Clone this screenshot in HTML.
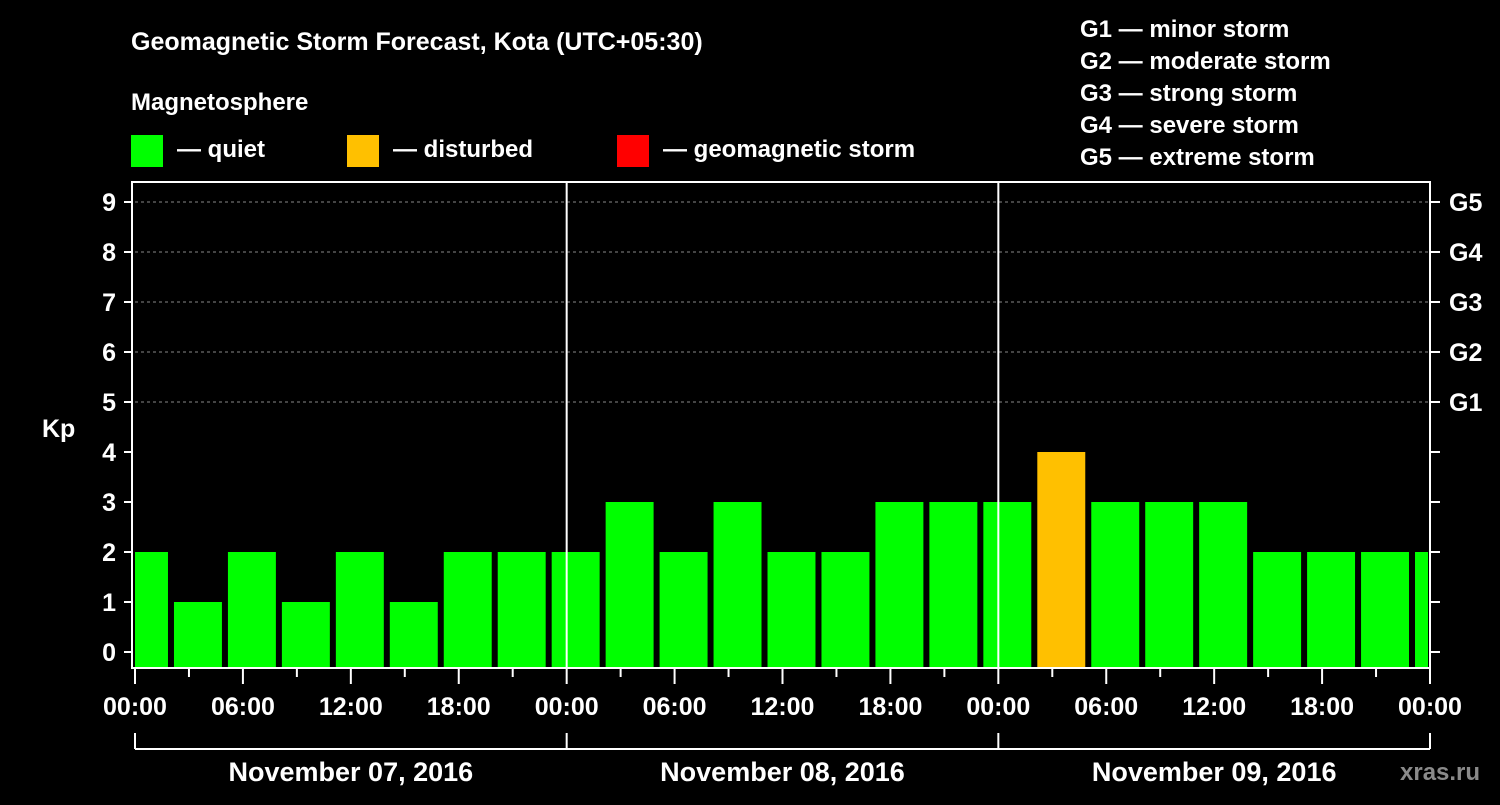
<!DOCTYPE html>
<html><head><meta charset="utf-8"><style>
body{margin:0;background:#000;width:1500px;height:800px;overflow:hidden}
svg text{font-family:"Liberation Sans",Arial,sans-serif;font-weight:bold;fill:#fff}
</style></head><body>
<svg id="chart" width="1500" height="800" xmlns="http://www.w3.org/2000/svg">
<rect width="1500" height="800" fill="#000"/>
<text x="131" y="50" font-size="25">Geomagnetic Storm Forecast, Kota (UTC+05:30)</text>
<text x="131" y="110" font-size="24">Magnetosphere</text>
<g><rect x="131" y="135" width="32" height="32" fill="#00ff00"/><text x="177" y="157" font-size="24">— quiet</text></g>
<g><rect x="347" y="135" width="32" height="32" fill="#ffc000"/><text x="393" y="157" font-size="24">— disturbed</text></g>
<g><rect x="617" y="135" width="32" height="32" fill="#ff0000"/><text x="663" y="157" font-size="24">— geomagnetic storm</text></g>
<g font-size="24">
<text x="1080" y="37">G1 — minor storm</text>
<text x="1080" y="69">G2 — moderate storm</text>
<text x="1080" y="101">G3 — strong storm</text>
<text x="1080" y="133">G4 — severe storm</text>
<text x="1080" y="165">G5 — extreme storm</text>
</g>
<text x="42" y="437" font-size="25">Kp</text>
<text x="1400" y="780" font-size="24" fill="#888" style="fill:#8a8a8a">xras.ru</text>
<g id="plot"></g>
</svg>
<script>
const kpValues=[2,1,2,1,2,1,2,2,2,3,2,3,2,2,3,3,3,4,3,3,3,2,2,2,2];
const dayLabels=["November 07, 2016","November 08, 2016","November 09, 2016"];
const timeLabels=["00:00","06:00","12:00","18:00"];
const kpTicks=[0,1,2,3,4,5,6,7,8,9];
const gLabels=["G1","G2","G3","G4","G5"];
const X0=135,X1=1430,HOURS=72,TOP=182,BOT=668;
const x=h=>X0+(X1-X0)*h/HOURS;
const y=k=>652-50*k;
const NS="http://www.w3.org/2000/svg";
const g=document.getElementById('plot');
function mk(t,a){const e=document.createElementNS(NS,t);for(const k in a)e.setAttribute(k,a[k]);g.appendChild(e);return e;}
// grid
kpTicks.filter(k=>k>=5).forEach(k=>{const l=mk('line',{x1:X0,x2:X1,y1:y(k),y2:y(k),stroke:'#888','stroke-dasharray':'3,3','stroke-width':1});

});
// bars
kpValues.forEach((v,i)=>{
 let s=i===0?-1:2+3*(i-1), e=s+3;
 let a=Math.max(s,0), b=Math.min(e,HOURS);
 let xa=x(a)+(s<0?0:3), xb=x(b)-(e>HOURS?2:3);
 const r=mk('rect',{x:xa,y:y(v),width:xb-xa,height:BOT-y(v),fill:v>=5?'#ff0000':v>=4?'#ffc000':'#00ff00'});
 
 
});
// day separators
[24,48].forEach(h=>{const l=mk('line',{x1:x(h),x2:x(h),y1:TOP,y2:BOT,stroke:'#fff','stroke-width':2});

});
// frame
const f=mk('rect',{x:132,y:TOP,width:X1-132,height:BOT-TOP,fill:'none',stroke:'#fff','stroke-width':2});


// y ticks
kpTicks.forEach(k=>{
 mk('line',{x1:124,x2:132,y1:y(k),y2:y(k),stroke:'#fff','stroke-width':2});
 mk('line',{x1:X1,x2:X1+10,y1:y(k),y2:y(k),stroke:'#fff','stroke-width':2});
 const t=mk('text',{x:116,y:y(k)+9,'font-size':25,'text-anchor':'end'});t.textContent=k;
 
 
});
gLabels.forEach((s,i)=>{const t=mk('text',{x:1449,y:y(5+i)+9,'font-size':25});t.textContent=s;
 
 });
// x ticks
for(let h=0;h<=HOURS;h+=3){const major=h%6===0;
 mk('line',{x1:x(h),x2:x(h),y1:BOT,y2:BOT+(major?16:9),stroke:'#fff','stroke-width':2});
 if(major&&h%6===0&&(h%24)%6===0){}
}
for(let h=0;h<=HOURS;h+=6){const t=mk('text',{x:x(h),y:715,'font-size':25,'text-anchor':'middle'});t.textContent=timeLabels[(h%24)/6];
 
 }
// day brackets
mk('line',{x1:X0,x2:X1,y1:749,y2:749,stroke:'#fff','stroke-width':2});
[0,24,48,72].forEach(h=>mk('line',{x1:x(h),x2:x(h),y1:733,y2:749,stroke:'#fff','stroke-width':2}));
dayLabels.forEach((d,i)=>{const t=mk('text',{x:x(24*i+12),y:781,'font-size':27,'text-anchor':'middle'});t.textContent=d;
 
 });
</script>
</body></html>
